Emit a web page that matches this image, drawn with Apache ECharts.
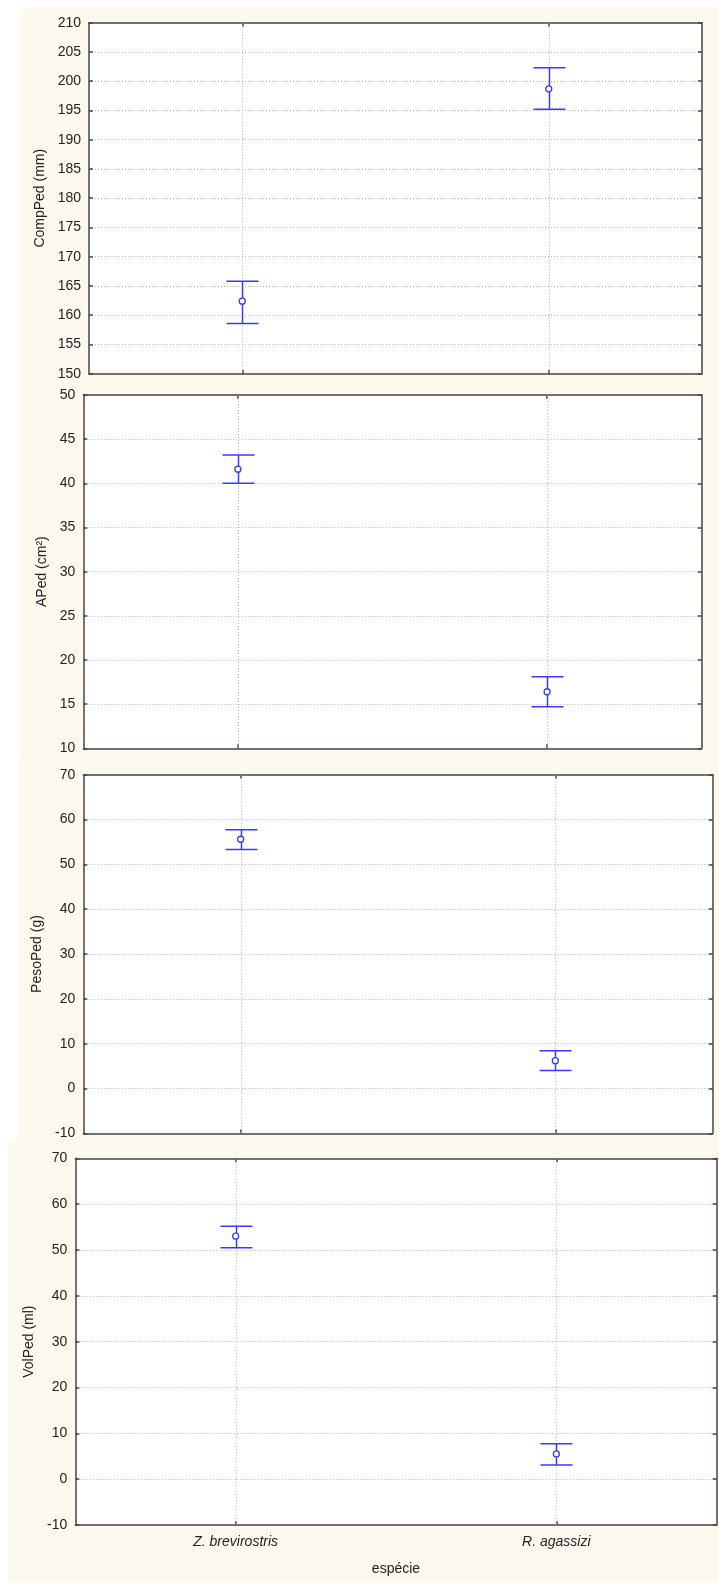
<!DOCTYPE html>
<html>
<head>
<meta charset="utf-8">
<script src="https://cdn.jsdelivr.net/npm/echarts@6/dist/echarts.min.js"></script>
<style>
  html, body { margin: 0; padding: 0; background: #ffffff; }
  #chart { width: 719px; height: 1583px; }
</style>
</head>
<body>
<div id="chart"></div>
<script>
// Species on the shared x axis
const categories = ['Z. brevirostris', 'R. agassizi'];

// CompPed (mm): mean and confidence interval bounds
const compMean = [162.4, 198.7];
const compLow  = [158.6, 195.2];
const compHigh = [165.8, 202.3];

// APed (cm²)
const apedMean = [41.6, 16.4];
const apedLow  = [40.0, 14.7];
const apedHigh = [43.2, 18.1];

// PesoPed (g)
const pesoMean = [55.6, 6.2];
const pesoLow  = [53.3, 4.0];
const pesoHigh = [57.7, 8.4];

// VolPed (ml)
const volMean = [53.0, 5.5];
const volLow  = [50.5, 3.1];
const volHigh = [55.2, 7.7];

// Y-axis scales: [min, max, interval]
const compScale = [150, 210, 5];
const apedScale = [10, 50, 5];
const pesoScale = [-10, 70, 10];
const volScale  = [-10, 70, 10];

const yNames = ['CompPed (mm)', 'APed (cm²)', 'PesoPed (g)', 'VolPed (ml)'];
const xName = 'espécie';

const panels = [
  { mean: compMean, low: compLow, high: compHigh, scale: compScale, name: yNames[0],
    grid: { left: 89, top: 22.7, width: 613, height: 351 }, nameGap: 36 },
  { mean: apedMean, low: apedLow, high: apedHigh, scale: apedScale, name: yNames[1],
    grid: { left: 83.3, top: 395, width: 618.4, height: 353.3 }, nameGap: 31.5 },
  { mean: pesoMean, low: pesoLow, high: pesoHigh, scale: pesoScale, name: yNames[2],
    grid: { left: 83.3, top: 774.7, width: 629.4, height: 358.6 }, nameGap: 36.5 },
  { mean: volMean, low: volLow, high: volHigh, scale: volScale, name: yNames[3],
    grid: { left: 75.3, top: 1158.3, width: 641.4, height: 366.7 }, nameGap: 38 }
];

const FONT = '"Liberation Sans", Arial, sans-serif';
const BLUE = '#3a3aff';
const FRAME = '#444444';
const GRID = '#b8b8b8';
const CREAM = '#fdf9ee';

// Error bar plus the dotted vertical guide at each category
function renderErrorBar(params, api) {
  const idx = api.value(0);
  const pLo = api.coord([idx, api.value(1)]);
  const pHi = api.coord([idx, api.value(2)]);
  const x = Math.round(pLo[0]) + 0.5;
  const cs = params.coordSys;
  const half = 16;
  return {
    type: 'group',
    children: [
      { type: 'line', z2: 0,
        shape: { x1: x, y1: cs.y, x2: x, y2: cs.y + cs.height },
        style: { stroke: GRID, lineWidth: 1, lineDash: [1, 2] } },
      { type: 'line', z2: 5,
        shape: { x1: x, y1: pLo[1], x2: x, y2: pHi[1] },
        style: { stroke: BLUE, lineWidth: 1.5 } },
      { type: 'line', z2: 5,
        shape: { x1: x - half, y1: pLo[1], x2: x + half, y2: pLo[1] },
        style: { stroke: BLUE, lineWidth: 1.5 } },
      { type: 'line', z2: 5,
        shape: { x1: x - half, y1: pHi[1], x2: x + half, y2: pHi[1] },
        style: { stroke: BLUE, lineWidth: 1.5 } }
    ]
  };
}

const grids = [], xAxes = [], yAxes = [], series = [];
const frameLine = { show: true, onZero: false, lineStyle: { color: FRAME, width: 1.5 } };

panels.forEach(function (p, i) {
  const last = i === panels.length - 1;
  grids.push(Object.assign({
    show: true, backgroundColor: '#ffffff', borderWidth: 0, containLabel: false
  }, p.grid));

  const tick = { show: true, inside: true, length: 4, alignWithLabel: true,
                 lineStyle: { color: FRAME, width: 1.5 } };

  // bottom category axis
  xAxes.push({
    type: 'category', gridIndex: i, data: categories, boundaryGap: true,
    position: 'bottom',
    axisLine: frameLine, axisTick: tick, splitLine: { show: false },
    axisLabel: { show: last, margin: 10, fontFamily: FONT, fontSize: 14,
                 fontStyle: 'italic', color: '#222' },
    name: last ? xName : '', nameLocation: 'middle', nameGap: 37,
    nameTextStyle: { fontFamily: FONT, fontSize: 14, color: '#222' }
  });
  // top mirror axis (ticks only)
  xAxes.push({
    type: 'category', gridIndex: i, data: categories, boundaryGap: true,
    position: 'top',
    axisLine: frameLine, axisTick: tick, splitLine: { show: false },
    axisLabel: { show: false }
  });

  const ytick = { show: true, inside: true, length: 4, lineStyle: { color: FRAME, width: 1.5 } };
  // left value axis
  yAxes.push({
    type: 'value', gridIndex: i, position: 'left',
    min: p.scale[0], max: p.scale[1], interval: p.scale[2],
    axisLine: frameLine, axisTick: ytick,
    splitLine: { show: true, showMinLine: false, showMaxLine: false,
                 lineStyle: { color: GRID, width: 1, type: [1, 2] } },
    axisLabel: { margin: 8, fontFamily: FONT, fontSize: 14, color: '#222' },
    name: p.name, nameLocation: 'middle', nameGap: p.nameGap, nameRotate: 90,
    nameTextStyle: { fontFamily: FONT, fontSize: 14, color: '#222' }
  });
  // right mirror axis (ticks only)
  yAxes.push({
    type: 'value', gridIndex: i, position: 'right',
    min: p.scale[0], max: p.scale[1], interval: p.scale[2],
    axisLine: frameLine, axisTick: ytick,
    splitLine: { show: false }, axisLabel: { show: false }
  });

  series.push({
    type: 'custom', xAxisIndex: i * 2, yAxisIndex: i * 2, z: 3,
    renderItem: renderErrorBar, silent: true,
    data: categories.map(function (c, k) { return [k, p.low[k], p.high[k]]; })
  });
  series.push({
    type: 'scatter', xAxisIndex: i * 2, yAxisIndex: i * 2, z: 5,
    symbol: 'circle', symbolSize: 6, silent: true,
    itemStyle: { color: '#ffffff', borderColor: BLUE, borderWidth: 1.3, opacity: 1 },
    data: categories.map(function (c, k) { return [k, p.mean[k]]; })
  });
});

// cream backdrop behind each panel
const backdrop = [
  { x: 21, y: 7, w: 698, h: 751 },
  { x: 18, y: 757, w: 701, h: 385 },
  { x: 8, y: 1141, w: 711, h: 442 }
].map(function (r) {
  return { type: 'rect', z: -100, silent: true,
           shape: { x: r.x, y: r.y, width: r.w, height: r.h },
           style: { fill: CREAM } };
});

const chart = echarts.init(document.getElementById('chart'), null, { renderer: 'canvas' });
chart.setOption({
  animation: false,
  backgroundColor: '#ffffff',
  graphic: { elements: backdrop },
  grid: grids,
  xAxis: xAxes,
  yAxis: yAxes,
  series: series
});
</script>
</body>
</html>
